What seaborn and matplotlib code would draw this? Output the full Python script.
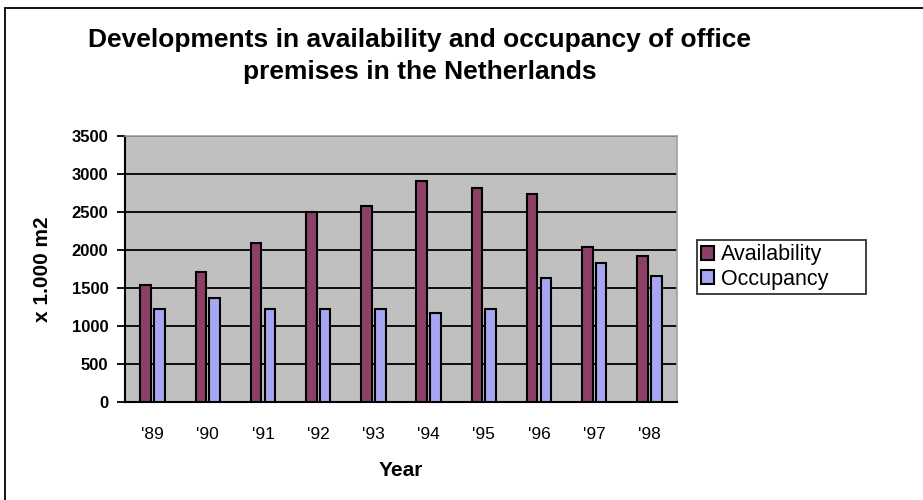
import seaborn as sns
import pandas as pd
import numpy as np
import matplotlib.pyplot as plt
from matplotlib.patches import Rectangle

# data
years = ["'89", "'90", "'91", "'92", "'93", "'94", "'95", "'96", "'97", "'98"]
availability = [1540, 1715, 2095, 2505, 2580, 2910, 2820, 2735, 2035, 1920]
occupancy = [1220, 1375, 1220, 1220, 1220, 1165, 1220, 1630, 1835, 1655]

df = pd.DataFrame({"Year": years * 2,
                   "Value": availability + occupancy,
                   "Series": ["Availability"] * len(years) + ["Occupancy"] * len(years)})

sns.set_theme(style="white")
plt.rcParams['font.family'] = ['Liberation Sans', 'DejaVu Sans']
plt.rcParams['text.color'] = "black"
plt.rcParams['axes.labelcolor'] = "black"
plt.rcParams['xtick.color'] = "black"
plt.rcParams['ytick.color'] = "black"

fig = plt.figure(figsize=(9.23, 5), dpi=100)
ax = fig.add_axes([125/923, 1-402/500, (677-125)/923, (402-136)/500])
ax.set_facecolor("#C0C0C0")

sns.barplot(data=df, x="Year", y="Value", hue="Series", ax=ax,
            palette=["#993366", "#9999FF"], edgecolor="black", linewidth=1.5,
            width=0.5, gap=0.22, zorder=3)

ax.set_ylim(0, 3500)
ax.set_yticks(np.arange(0, 3501, 500))
ax.set_xlim(-0.5, len(years) - 0.5)
ax.yaxis.grid(True, color="black", linewidth=1.3, zorder=1)
ax.set_axisbelow(True)

# Excel-style ticks: marks between categories, labels in the middle
ax.set_xticks(np.arange(len(years)))
ax.set_xticklabels(years, fontsize=12.5)
ax.set_xticks(np.arange(-0.5, len(years)), minor=True)
ax.tick_params(axis="x", which="major", length=0, pad=18)
ax.tick_params(axis="x", which="minor", length=6, width=1.3, color="black", direction="out")
ax.tick_params(axis="y", length=6, width=1.3, color="black", direction="out", left=True, pad=6)
for lab in ax.get_yticklabels():
    lab.set_fontsize(12)
    lab.set_fontweight("heavy")

for s in ["left", "bottom"]:
    ax.spines[s].set_color("black")
    ax.spines[s].set_linewidth(1.5)
for s in ["top", "right"]:
    ax.spines[s].set_color("#A0A0A0")
    ax.spines[s].set_linewidth(1.2)

ax.set_xlabel("Year", fontsize=15, fontweight="heavy", labelpad=14)
ax.set_ylabel("x 1.000 m2", fontsize=15, fontweight="heavy", labelpad=14)

ax.legend(title=None, loc="upper left",
          bbox_to_anchor=(697/923, 1-298/500, 169/923, 58/500), mode="expand",
          bbox_transform=fig.transFigure, frameon=True, fancybox=False,
          edgecolor="black", fontsize=15.5, handlelength=0.6, handleheight=0.6,
          handletextpad=0.3, borderpad=0.2, labelspacing=0.15, borderaxespad=0)
ax.get_legend().get_frame().set_linewidth(1.3)

fig.text(420/923, 1-40/500, "Developments in availability and occupancy of office",
         ha="center", va="center", fontsize=19, fontweight="heavy")
fig.text(420/923, 1-72/500, "premises in the Netherlands",
         ha="center", va="center", fontsize=19, fontweight="heavy")

# outer chart border
fig.patches.append(Rectangle((5/923, -0.1), 2, 1.1 - 8/500, transform=fig.transFigure,
                             fill=False, edgecolor="black", linewidth=1.3))

fig.savefig("out.png", dpi=100)
